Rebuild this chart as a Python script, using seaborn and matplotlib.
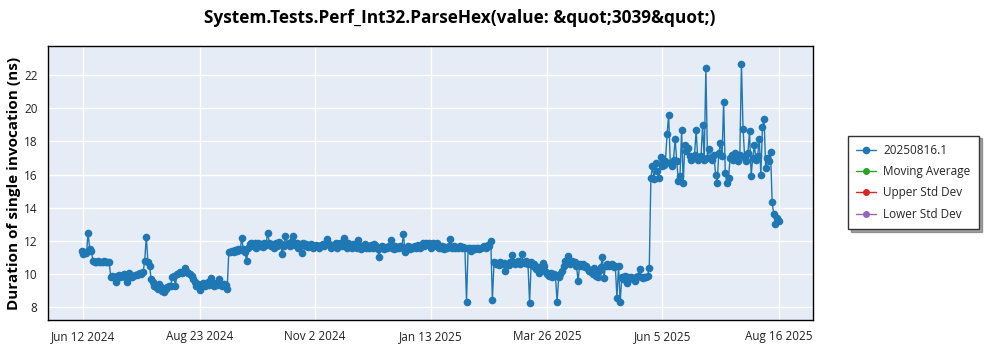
import numpy as np
import pandas as pd
import matplotlib
matplotlib.use("Agg")
import matplotlib.pyplot as plt
import matplotlib.dates as mdates
from matplotlib.ticker import MultipleLocator, AutoMinorLocator
import seaborn as sns

# ---------------- data (one run per day, starting 2024-06-11) ----------------
start_date = "2024-06-11"

vals_jun_2024 = [11.4, 11.2, 11.3, 11.25, 12.5, 11.5, 11.4, 10.8, 10.75, 10.7,
                 10.8, 10.75, 10.7, 10.75, 10.8, 10.75, 10.7, 10.7]
vals_jul_2024 = [9.85, 9.9, 9.8, 9.5, 9.9, 9.95, 9.85, 9.9, 10.0, 9.8,
                 9.5, 10.06, 9.8, 9.85, 9.9, 9.95, 9.95, 10.0, 10.05, 10.0,
                 10.1, 10.8]
vals_aug_2024 = [12.26, 10.7, 10.5, 9.7, 9.5, 9.3, 9.2, 9.1, 9.4, 9.2,
                 9.0, 8.93, 9.1, 9.2, 9.25, 9.3, 9.8, 9.9, 9.3, 10.0,
                 10.05, 10.1, 10.05, 10.1, 10.38, 10.1, 10.05, 10.0, 9.9, 9.7]
vals_sep_2024 = [9.5, 9.3, 9.4, 9.03, 9.35, 9.45, 9.3, 9.4, 9.5, 9.35,
                 9.76, 9.4, 9.3, 9.45, 9.35, 9.7, 9.4, 9.3, 9.4, 9.35, 9.1]
vals_oct_dec_2024 = [
    11.3, 11.35, 11.4, 11.3, 11.45, 11.4, 11.5, 11.45, 12.16, 11.5,
    11.3, 10.8, 11.6, 11.8, 11.9, 11.7, 11.85, 11.6, 11.9, 11.7,
    11.8, 11.65, 11.9, 11.75, 12.5, 11.9, 11.7, 11.8, 11.6, 11.85,
    11.7, 11.95, 11.8, 11.2, 11.7, 12.3, 11.8, 11.9, 11.7, 12.0,
    12.3, 11.75, 11.9, 11.6, 11.8, 11.25, 11.9, 11.7, 11.8, 11.65,
    11.75, 11.8, 11.6, 11.7, 11.75, 11.7, 11.6, 11.75, 11.8, 11.7,
    11.85, 12.1, 11.8, 11.6, 11.75, 11.7, 11.85, 11.6, 11.75, 11.9,
    11.7, 12.2, 11.8, 11.6, 11.9, 11.7, 11.55, 11.8, 11.7, 11.6,
    12.03, 11.7, 11.5, 11.65, 11.8, 11.6, 11.7, 11.55, 11.75, 11.6,
    11.8, 11.7, 11.5, 11.0, 11.6, 11.7, 11.5, 11.65, 11.6, 11.7,
    12.03, 11.6, 11.5, 11.7, 11.6, 11.55, 11.7, 11.65, 12.4, 11.3]
vals_jan_feb_2025 = [
    11.6, 11.7, 11.5, 11.65, 11.6, 11.7, 11.55, 11.75, 11.6, 11.7,
    11.85, 11.7, 11.9, 11.75, 11.85, 11.6, 11.9, 11.8, 11.7, 11.85,
    11.6, 11.55, 11.7, 11.5, 11.65, 11.6, 11.7, 12.1, 11.6, 11.7,
    11.55, 11.65, 11.6, 11.7, 11.6, 11.65, 11.55, 8.32, 11.6, 11.55,
    11.4, 11.6, 11.5, 11.55, 11.6, 11.5, 11.6, 11.65, 11.7, 11.6,
    11.75, 11.7, 12.0, 8.42]
vals_feb_apr_2025 = [
    10.7, 10.6, 10.65, 10.55, 10.7, 10.6, 10.65, 10.18, 10.6, 10.55,
    10.7, 11.13, 10.7, 10.6, 10.75, 10.8, 10.6, 11.23, 10.7, 10.65,
    10.8, 10.6, 8.26, 10.7, 10.5, 10.6, 10.3, 10.4, 10.08, 10.3,
    10.68, 10.5, 10.1, 10.0, 9.9, 10.05, 9.85, 10.0, 9.9, 8.32,
    9.8, 10.0, 10.2, 10.5, 10.8, 10.7, 11.1, 10.6, 10.8, 10.65,
    10.7]
vals_apr_may_2025 = [
    10.5, 9.58, 10.6, 10.5, 10.6, 10.4, 10.5, 10.3, 10.2, 10.1,
    10.0, 10.35, 9.9, 9.8, 10.2, 10.4, 11.05, 9.78, 10.5, 10.6,
    10.5, 10.55, 10.6, 10.4, 10.5, 8.57, 10.5, 8.32, 9.8, 9.7,
    9.9, 9.45, 9.8, 9.75, 9.85, 9.7, 9.6, 9.8, 9.9, 10.28,
    9.8, 9.75, 9.85, 9.8, 9.9, 10.38]
vals_jun_aug_2025 = [
    15.8, 16.5, 15.7, 16.7, 16.2, 15.8, 17.05, 16.5, 16.6, 16.8,
    18.42, 19.6, 16.7, 16.5, 16.9, 18.16, 16.8, 15.6, 15.9, 18.67,
    15.5, 17.8, 17.4, 17.6, 17.1, 16.9, 17.0, 17.2, 18.67, 16.9,
    17.0, 17.1, 18.97, 16.9, 22.4, 17.0, 17.56, 17.0, 16.9, 17.2,
    16.0, 15.5, 17.3, 17.88, 17.1, 20.38, 16.1, 15.5, 15.8, 17.0,
    17.2, 16.9, 17.3, 17.0, 16.8, 17.2, 22.65, 18.77, 17.0, 16.8,
    17.3, 18.6, 15.94, 17.0, 17.75, 16.9, 17.1, 18.16, 16.0, 18.87,
    19.33, 16.4, 17.0, 16.8, 17.35, 14.32, 13.6, 13.0, 13.4, 13.2]

values = (vals_jun_2024 + vals_jul_2024 + vals_aug_2024 + vals_sep_2024 +
          vals_oct_dec_2024 + vals_jan_feb_2025 + vals_feb_apr_2025 +
          vals_apr_may_2025 + vals_jun_aug_2025)
dates = pd.date_range(start_date, periods=len(values), freq="D")

tick_dates = ["2024-06-12", "2024-08-23", "2024-11-02", "2025-01-13",
              "2025-03-26", "2025-06-05", "2025-08-16"]
tick_labels = ["Jun 12 2024", "Aug 23 2024", "Nov 2 2024", "Jan 13 2025",
               "Mar 26 2025", "Jun 5 2025", "Aug 16 2025"]
y_ticks = [8, 10, 12, 14, 16, 18, 20, 22]

series_name = "20250816.1"
other_series = ["Moving Average", "Upper Std Dev", "Lower Std Dev"]
other_colors = ["#2ca02c", "#d62728", "#9467bd"]
main_color = "#1f77b4"

title = "System.Tests.Perf_Int32.ParseHex(value: &quot;3039&quot;)"
ylabel = "Duration of single invocation (ns)"

# ---------------- plot ----------------
sns.set_style("white")
plt.rcParams["font.family"] = ["Open Sans", "DejaVu Sans"]

fig = plt.figure(figsize=(10, 3.5), dpi=100)
ax = fig.add_axes([0.048, 0.0857, 0.765, 0.783])
ax.set_facecolor("#e5ecf6")

df = pd.DataFrame({"date": dates, "value": values})
sns.lineplot(data=df, x="date", y="value", ax=ax, color=main_color,
             linewidth=1, marker="o", markersize=5.5, markeredgewidth=0,
             label=series_name, zorder=3)
for name, col in zip(other_series, other_colors):
    ax.plot([], [], color=col, marker="o", markersize=4, linewidth=1, label=name)

ax.set_xlim(pd.Timestamp("2024-05-21 05:00"), pd.Timestamp("2025-09-06 06:00"))
ax.set_ylim(7.23, 23.75)

ax.set_xticks([pd.Timestamp(d) for d in tick_dates])
ax.set_xticklabels(tick_labels)
ax.set_yticks(y_ticks)
ax.yaxis.set_minor_locator(AutoMinorLocator(5))

ax.grid(True, which="major", color="white", linewidth=1)
ax.set_axisbelow(True)
for s in ax.spines.values():
    s.set_color("black")
    s.set_linewidth(1)

ax.tick_params(axis="both", which="major", direction="out", length=4,
               width=1, color="black", labelsize=8.5, labelcolor="#222222")
ax.tick_params(axis="y", which="minor", direction="out", length=2.5,
               width=0.8, color="black")
ax.tick_params(axis="x", which="minor", length=0)
ax.set_xlabel("")
ax.set_ylabel("")

fig.text(0.46, 0.948, title, ha="center", va="center", fontsize=12.4,
         fontweight="bold", color="black")
fig.text(0.014, 0.477, ylabel, ha="center", va="center", rotation=90,
         fontsize=11, fontweight="bold", color="black")

leg = ax.legend(loc="center left", bbox_to_anchor=(0.848, 0.479),
                bbox_transform=fig.transFigure, frameon=True, fancybox=False,
                shadow=True, edgecolor="#333333", fontsize=8.5,
                handlelength=1.7, borderpad=0.7, labelspacing=0.7,
                handletextpad=0.6, borderaxespad=0)
leg.get_frame().set_linewidth(1)

fig.savefig("out.png", dpi=100, facecolor="white")
